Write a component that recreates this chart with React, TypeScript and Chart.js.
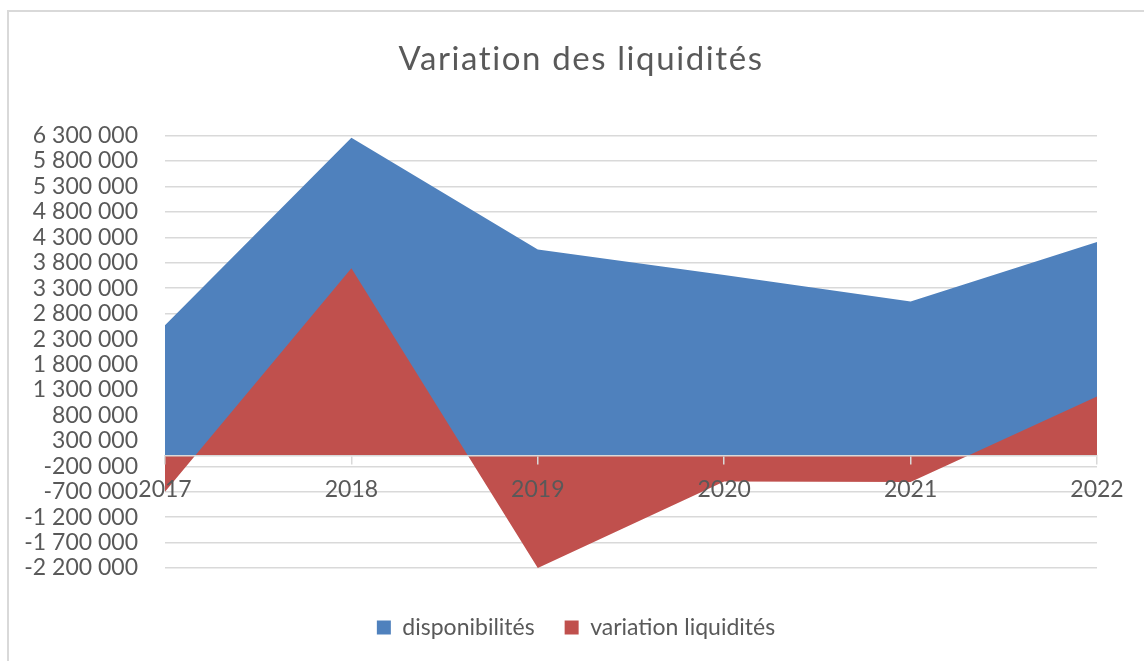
import React, { useEffect, useRef } from "react";
import { Chart, registerables } from "chart.js";

Chart.register(...registerables);

const years = ["2017", "2018", "2019", "2020", "2021", "2022"];
const disponibilites = [2570000, 6260000, 4060000, 3560000, 3040000, 4210000];
const variationLiquidites = [-700000, 3690000, -2200000, -500000, -510000, 1170000];

const yMin = -2200000;
const yMax = 6300000;
const yStep = 500000;

const TEXT = "#595959";
const GRID = "#d9d9d9";
const FONT = "Lato";

const fmt = (v: number) => {
  const s = Math.abs(Math.round(v)).toString().replace(/\B(?=(\d{3})+(?!\d))/g, " ");
  return (v < 0 ? "-" : "") + s;
};

const framePlugin = {
  id: "frame",
  beforeDraw(chart: any) {
    const ctx = chart.ctx;
    ctx.save();
    ctx.fillStyle = "#ffffff";
    ctx.fillRect(0, 0, chart.width, chart.height);
    ctx.strokeStyle = GRID;
    ctx.lineWidth = 2;
    ctx.strokeRect(8, 11, 1150, 700);
    ctx.restore();
  },
  afterLayout(chart: any) {
    const tb = chart.titleBlock;
    if (tb) {
      tb.left = 65;
      if (!tb.__patched) {
        const orig = tb.draw;
        tb.draw = function (this: any, ...args: any[]) {
          const c = this.ctx;
          const prev = c.letterSpacing;
          c.letterSpacing = "1.6px";
          orig.apply(this, args);
          c.letterSpacing = prev;
        };
        tb.__patched = true;
      }
    }
    if (chart.legend) chart.legend.left = 55;
  },
};

export default function App() {
  const ref = useRef<HTMLCanvasElement | null>(null);
  useEffect(() => {
    document.body.style.margin = "0";
    const canvas = ref.current!;
    const chart = new Chart(canvas, {
      type: "line",
      data: {
        labels: years,
        datasets: [
          {
            label: "disponibilités",
            data: disponibilites,
            backgroundColor: "#4F81BD",
            borderColor: "#4F81BD",
            borderWidth: 0,
            pointRadius: 0,
            fill: "origin",
            tension: 0,
            order: 1,
          },
          {
            label: "variation liquidités",
            data: variationLiquidites,
            backgroundColor: "#C0504D",
            borderColor: "#C0504D",
            borderWidth: 0,
            pointRadius: 0,
            fill: "origin",
            tension: 0,
            order: 0,
          },
        ],
      },
      options: {
        animation: false,
        responsive: false,
        events: [],
        layout: { padding: { left: 15, right: 47, top: 0, bottom: 12 } },
        font: { family: FONT },
        scales: {
          x: {
            type: "category",
            position: { y: 0 } as any,
            offset: false,
            grid: {
              display: true,
              drawOnChartArea: false,
              drawTicks: true,
              tickLength: 8,
              color: GRID,
              lineWidth: 1.5,
              z: 1,
            },
            border: { display: true, color: GRID, width: 1.5, z: 1 },
            ticks: {
              z: 1,
              padding: 12,
              color: TEXT,
              font: { family: FONT, size: 23 },
              maxRotation: 0,
              autoSkip: false,
            },
          },
          y: {
            type: "linear",
            min: yMin,
            max: yMax,
            afterFit: (s: any) => {
              s.width = 150;
            },
            grid: { color: GRID, lineWidth: 1.5, drawTicks: false },
            border: { display: false },
            ticks: {
              stepSize: yStep,
              autoSkip: false,
              padding: 27,
              color: TEXT,
              font: { family: FONT, size: 23 },
              callback: (v: any) => fmt(Number(v)),
            },
          },
        },
        plugins: {
          title: {
            display: true,
            text: "Variation des liquidités",
            color: TEXT,
            font: { family: FONT, size: 33, weight: "normal" },
            padding: { top: 40, bottom: 56 },
          },
          legend: {
            display: true,
            position: "bottom",
            title: { display: true, text: "", padding: 0, font: { family: FONT, size: 15 } },
            labels: {
              boxWidth: 14,
              boxHeight: 14,
              padding: 30,
              color: TEXT,
              font: { family: FONT, size: 23 },
              sort: (a: any, b: any) => a.datasetIndex - b.datasetIndex,
            },
          },
          tooltip: { enabled: false },
        },
      } as any,
      plugins: [framePlugin],
    });
    return () => chart.destroy();
  }, []);
  return (
    <div style={{ width: 1144, height: 661 }}>
      <canvas ref={ref} width={1144} height={661} style={{ display: "block" }} />
    </div>
  );
}
